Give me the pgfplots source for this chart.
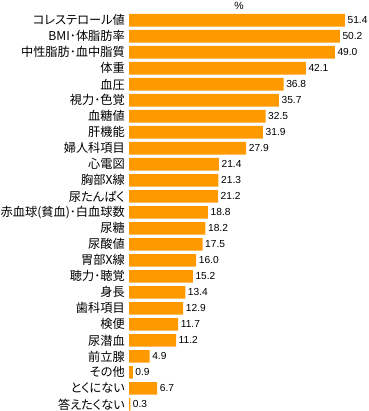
\documentclass[border=0pt]{standalone}
\usepackage{pgfplots}
\pgfplotsset{compat=1.18}
\usepackage{fontspec}
\setmainfont{Liberation Sans}
\newfontfamily\jp[RawFeature=+palt]{Noto Sans CJK JP}
\definecolor{barorange}{HTML}{FF9900}
\begin{document}
\begin{tikzpicture}[x=1pt,y=1pt]
\useasboundingbox (0,0) rectangle (368,411);
\begin{axis}[
  at={(129pt,-1.35pt)}, anchor=south west,
  scale only axis, width=239pt, height=400pt,
  xmin=0, xmax=56.905, ymin=-0.5, ymax=24.5,
  y dir=reverse,
  xbar, bar width=12.7pt, bar shift=0pt,
  axis line style={draw=none},
  xtick=\empty,
  ytick={0,...,24},
  major tick length=0pt,
  yticklabels={コレステロール値,BMI･体脂肪率,中性脂肪･血中脂質,体重,血圧,視力･色覚,血糖値,肝機能,婦人科項目,心電図,胸部X線,尿たんぱく,赤血球(貧血)･白血球数,尿糖,尿酸値,胃部X線,聴力･聴覚,身長,歯科項目,検便,尿潜血,前立腺,その他,とくにない,答えたくない},
  yticklabel style={font=\jp\fontsize{12.2}{13}\selectfont, inner sep=0pt, xshift=-4pt},
  nodes near coords,
  nodes near coords style={font=\fontsize{10.2}{12}\selectfont, anchor=west, inner sep=0pt, xshift=2.5pt, /pgf/number format/.cd, assume math mode=true, fixed, fixed zerofill, precision=1},
  clip=false,
]
\addplot[fill=barorange, draw=none] coordinates {
(51.4,0) (50.2,1) (49.0,2) (42.1,3) (36.8,4) (35.7,5) (32.5,6) (31.9,7)
(27.9,8) (21.4,9) (21.3,10) (21.2,11) (18.8,12) (18.2,13) (17.5,14) (16.0,15)
(15.2,16) (13.4,17) (12.9,18) (11.7,19) (11.2,20) (4.9,21) (0.9,22) (6.7,23) (0.3,24)
};
\end{axis}
\node[font=\fontsize{10.5}{12}\selectfont, inner sep=0pt] at (239,405) {\%};
\end{tikzpicture}
\end{document}
